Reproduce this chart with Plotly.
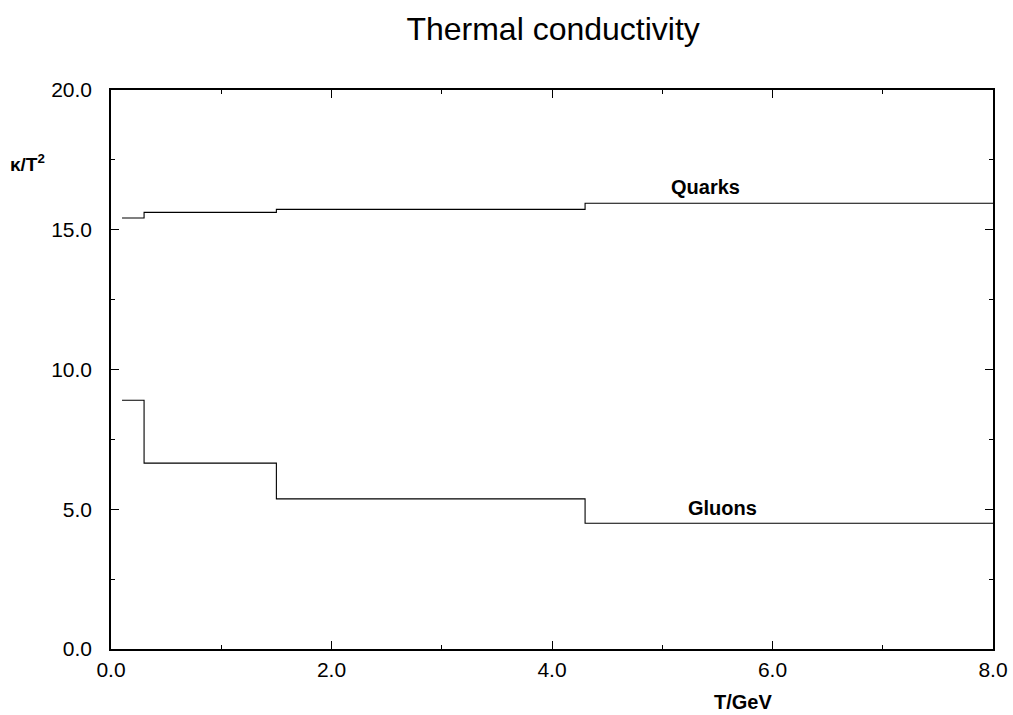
import plotly.graph_objects as go

# step boundaries (T/GeV) and values on each segment
t_edges = [0.1, 0.3, 1.5, 4.3, 8.0]
quarks = [15.42, 15.62, 15.73, 15.95]
gluons = [8.90, 6.65, 5.37, 4.50]

x_ticks = [0, 2, 4, 6, 8]
x_tick_labels = ["0.0", "2.0", "4.0", "6.0", "8.0"]
y_ticks = [0, 5, 10, 15, 20]
y_tick_labels = ["0.0", "5.0", "10.0", "15.0", "20.0"]

FONT = "Liberation Sans, Arial"

def step_y(vals):
    return vals + [vals[-1]]

fig = go.Figure()
for name, vals in [("Quarks", quarks), ("Gluons", gluons)]:
    fig.add_trace(go.Scatter(x=t_edges, y=step_y(vals), mode="lines",
                             line=dict(color="black", width=1.1, shape="hv"),
                             name=name, showlegend=False))

fig.add_annotation(x=5.39, y=16.53, text="<b>Quarks</b>", showarrow=False,
                   xanchor="center", yanchor="middle",
                   font=dict(family=FONT, size=20, color="black"))
fig.add_annotation(x=5.55, y=5.04, text="<b>Gluons</b>", showarrow=False,
                   xanchor="center", yanchor="middle",
                   font=dict(family=FONT, size=20, color="black"))

fig.add_annotation(xref="paper", yref="paper", x=0.7166, y=-0.0948, text="<b>T/GeV</b>",
                   showarrow=False, xanchor="center", yanchor="middle",
                   font=dict(family=FONT, size=20, color="black"))
fig.add_annotation(xref="paper", yref="paper", x=-0.117, y=0.87, text="<b>κ/T<sup>2</sup></b>",
                   showarrow=False, xanchor="left", yanchor="middle",
                   font=dict(family=FONT, size=19, color="black"))

axis_common = dict(showgrid=False, zeroline=False, showline=True, linecolor="black",
                   linewidth=1.5, mirror="ticks", ticks="inside", tickcolor="black",
                   automargin=False,
                   tickfont=dict(family=FONT, size=21, color="black"))

fig.update_xaxes(range=[0, 8], tickvals=x_ticks, ticktext=x_tick_labels, ticklen=8,
                 ticklabelstandoff=1,
                 minor=dict(dtick=1, tick0=0, ticklen=4, ticks="inside", tickcolor="black"),
                 **axis_common)
fig.update_yaxes(range=[0, 20], tickvals=y_ticks, ticktext=y_tick_labels, ticklen=8,
                 ticklabelstandoff=13,
                 minor=dict(dtick=2.5, tick0=0, ticklen=4, ticks="inside", tickcolor="black"),
                 **axis_common)

fig.update_layout(
    width=1013, height=715,
    margin=dict(l=111, r=20, t=90, b=66),
    plot_bgcolor="white", paper_bgcolor="white",
    title=dict(text="Thermal conductivity", x=0.546, xanchor="center", y=0.96, yanchor="middle",
               font=dict(family=FONT, size=32, color="black")),
)

fig.write_html("out.html")
